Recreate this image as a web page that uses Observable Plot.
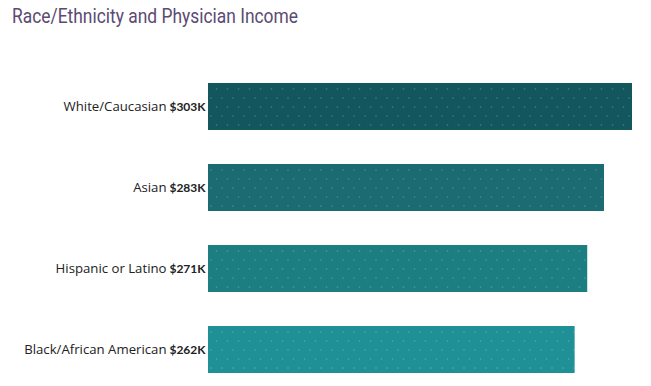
<!DOCTYPE html>
<html>
<head>
<meta charset="utf-8">
<script src="https://cdn.jsdelivr.net/npm/d3@7"></script>
<script src="https://cdn.jsdelivr.net/npm/@observablehq/plot@0.6"></script>
<style>
  html, body { margin: 0; padding: 0; background: #fff; }
  #wrap { width: 651px; height: 386px; position: relative; overflow: hidden; }
  #title { position: absolute; left: 12px; top: 4px; font-family: "Roboto", sans-serif; font-size: 20px; color: #5b4a72; white-space: nowrap; transform-origin: left top; line-height: 24px; }
  #chart { position: absolute; left: 0; top: 40px; }
</style>
</head>
<body>
<div id="wrap">
  <div id="title">Race/Ethnicity and Physician Income</div>
  <div id="chart"></div>
</div>
<script>
const categories = ["White/Caucasian", "Asian", "Hispanic or Latino", "Black/African American"];
const incomes = [303, 283, 271, 262];
const valueLabels = ["$303K", "$283K", "$271K", "$262K"];
const barColors = ["#14565e", "#1a6b72", "#1d7e82", "#1f9196"];

const data = categories.map((c, i) => ({category: c, income: incomes[i], label: valueLabels[i], color: barColors[i]}));

const plot = Plot.plot({
  width: 651,
  height: 346,
  marginLeft: 208,
  marginRight: 19,
  marginTop: 41,
  marginBottom: 12,
  x: {domain: [0, d3.max(incomes)], axis: null},
  y: {domain: categories, axis: null, paddingInner: 0.425, paddingOuter: 0},
  marks: [
    Plot.barX(data, {x: "income", y: "category", fill: "color"}),
    Plot.barX(data, {x: "income", y: "category", fill: "url(#dots)"}),
    Plot.text(data, {x: 0, y: "category", text: "category", textAnchor: "end", dx: -42, fontSize: 13.2, fill: "#222", fontFamily: "'Open Sans', sans-serif"}),
    Plot.text(data, {x: 0, y: "category", text: "label", textAnchor: "end", dx: -3, fontSize: 12, fontWeight: "bold", fill: "#222", fontFamily: "Lato, sans-serif"})
  ]
});

const ns = "http://www.w3.org/2000/svg";
const defs = document.createElementNS(ns, "defs");
const pat = document.createElementNS(ns, "pattern");
pat.setAttribute("id", "dots");
pat.setAttribute("patternUnits", "userSpaceOnUse");
pat.setAttribute("width", "11");
pat.setAttribute("height", "18");
pat.setAttribute("x", "208");
pat.setAttribute("y", "0");
[[3, 4], [8.5, 13]].forEach(([cx, cy]) => {
  const c = document.createElementNS(ns, "circle");
  c.setAttribute("cx", cx); c.setAttribute("cy", cy); c.setAttribute("r", "0.8");
  c.setAttribute("fill", "rgba(255,255,255,0.22)");
  pat.appendChild(c);
});
defs.appendChild(pat);
plot.insertBefore(defs, plot.firstChild);

document.getElementById("chart").appendChild(plot);

const t = document.getElementById("title");
const w = t.getBoundingClientRect().width;
t.style.transform = `scaleX(${286 / w})`;
</script>
</body>
</html>
